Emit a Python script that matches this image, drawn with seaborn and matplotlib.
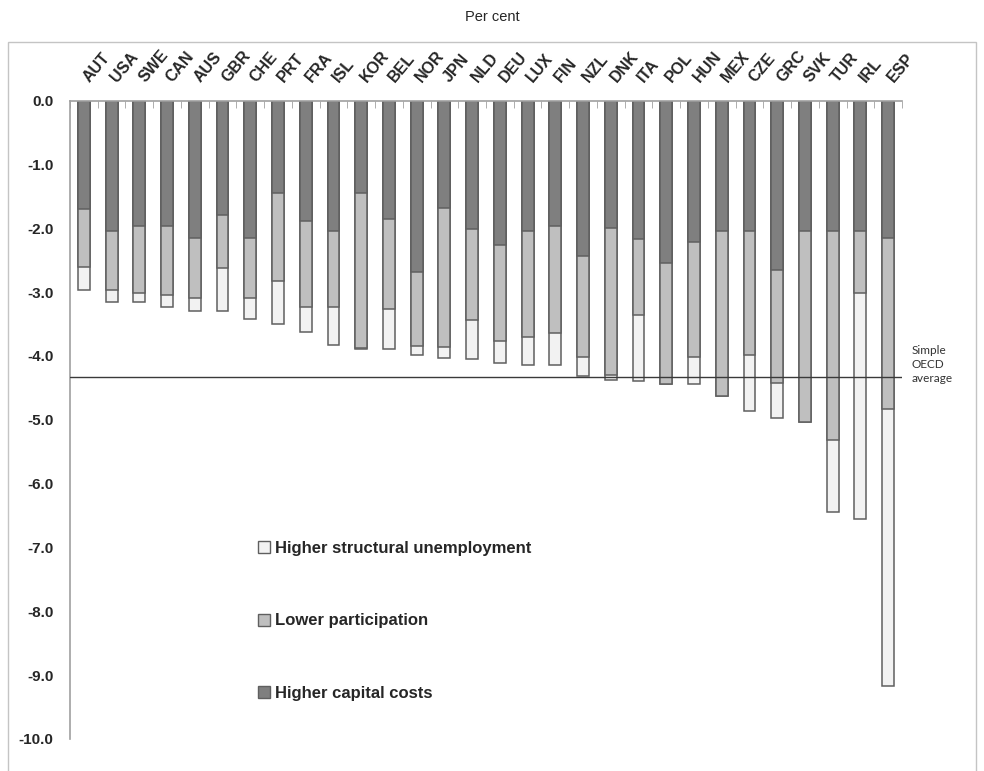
import numpy as np
import pandas as pd
import seaborn as sns
import matplotlib.pyplot as plt
import matplotlib.transforms as mtransforms
from matplotlib.patches import Patch, Rectangle

# values (per cent), one entry per country
countries = ["AUT", "USA", "SWE", "CAN", "AUS", "GBR", "CHE", "PRT", "FRA", "ISL",
             "KOR", "BEL", "NOR", "JPN", "NLD", "DEU", "LUX", "FIN", "NZL", "DNK",
             "ITA", "POL", "HUN", "MEX", "CZE", "GRC", "SVK", "TUR", "IRL", "ESP"]
capital = [-1.70, -2.05, -1.96, -1.97, -2.16, -1.79, -2.16, -1.45, -1.89, -2.05,
           -1.45, -1.85, -2.68, -1.69, -2.01, -2.26, -2.04, -1.96, -2.43, -1.99,
           -2.17, -2.55, -2.22, -2.04, -2.05, -2.65, -2.05, -2.05, -2.05, -2.16]
participation = [-0.90, -0.92, -1.05, -1.08, -0.94, -0.84, -0.94, -1.37, -1.35, -1.19,
                 -2.42, -1.41, -1.16, -2.17, -1.43, -1.51, -1.66, -1.68, -1.58, -2.31,
                 -1.19, -1.89, -1.79, -2.59, -1.93, -1.77, -2.99, -3.26, -0.96, -2.67]
unemployment = [-0.37, -0.18, -0.14, -0.19, -0.20, -0.67, -0.32, -0.68, -0.39, -0.59,
                -0.02, -0.63, -0.14, -0.18, -0.61, -0.34, -0.45, -0.51, -0.31, -0.07,
                -1.04, 0.0, -0.43, 0.0, -0.88, -0.56, 0.0, -1.14, -3.54, -4.34]
oecd_average = -4.33

sns.set_style("white")
plt.rcParams["font.family"] = ["Liberation Sans", "DejaVu Sans"]

df = pd.DataFrame({"country": countries, "capital": capital,
                   "participation": participation, "unemployment": unemployment})
df["cap_part"] = df["capital"] + df["participation"]
df["total"] = df["cap_part"] + df["unemployment"]

W, H = 984, 771
fig = plt.figure(figsize=(W / 100, H / 100), dpi=100)
ax = fig.add_axes([70 / W, 1 - 739 / H, (902 - 70) / W, (739 - 100.5) / H])

# outer chart frame
fig.patches.append(Rectangle((8 / W, -0.1), (976 - 8) / W, 1.1 - 42 / H,
                             transform=fig.transFigure, fill=False,
                             edgecolor="#c4c4c4", lw=1))

edge = "#5f5f5f"
light, mid, dark = "#f2f2f2", "#bfbfbf", "#7f7f7f"
# stacked bars drawn as overlapping cumulative bars
for col, colour in [("total", light), ("cap_part", mid), ("capital", dark)]:
    sns.barplot(data=df, x="country", y=col, color=colour, saturation=1,
                width=0.43, edgecolor=edge, linewidth=1.1, errorbar=None, ax=ax)

ax.axhline(oecd_average, color="#3a3a3a", lw=1, zorder=5)
ax.text(1.012, (oecd_average + 10) / 10 + 0.05, "Simple\nOECD\naverage",
        transform=ax.transAxes, fontsize=8.5, family=["Lato", "DejaVu Sans"],
        color="#333333", va="top", ha="left", linespacing=1.35)

ax.set_ylim(-10, 0)
ax.set_xlim(-0.5, len(countries) - 0.5)
ax.set_xlabel("")
ax.set_ylabel("")

ax.xaxis.tick_top()
ax.set_xticks(np.arange(-0.5, len(countries), 1), minor=True)
ax.tick_params(axis="x", which="major", length=0, pad=11)
ax.tick_params(axis="x", which="minor", direction="in", length=5,
               color="#a0a0a0", top=True, bottom=False)
ax.set_xticks(range(len(countries)))
ax.set_xticklabels(countries, rotation=50, ha="left", va="bottom",
                   rotation_mode="anchor", fontweight="bold", fontsize=11.5)
shift = mtransforms.ScaledTranslation(8 / 100, 0, fig.dpi_scale_trans)
for lbl in ax.get_xticklabels():
    lbl.set_transform(lbl.get_transform() + shift)

yt = np.arange(-10, 1, 1)
ax.set_yticks(yt)
ax.set_yticklabels([f"{v:.1f}" for v in yt], fontweight="bold", fontsize=11)
ax.tick_params(axis="y", direction="out", length=4, color="#a0a0a0", pad=8)

for s in ["right", "bottom"]:
    ax.spines[s].set_visible(False)
for s in ["left", "top"]:
    ax.spines[s].set_color("#a0a0a0")
    ax.spines[s].set_linewidth(1.2)

handles = [Patch(facecolor=light, edgecolor=edge, label="Higher structural unemployment"),
           Patch(facecolor=mid, edgecolor=edge, label="Lower participation"),
           Patch(facecolor=dark, edgecolor=edge, label="Higher capital costs")]
ax.legend(handles=handles, loc="upper left", bbox_to_anchor=(258 / W, 1 - 541 / H),
          bbox_transform=fig.transFigure, frameon=False, borderpad=0,
          borderaxespad=0, handlelength=0.7, handleheight=0.7, handletextpad=0.3,
          labelspacing=3.45, prop={"weight": "bold", "size": 12})

fig.text(492 / W, 1 - 17 / H, "Per cent", ha="center", va="center", fontsize=10.5)

fig.savefig("out.png", dpi=100)
